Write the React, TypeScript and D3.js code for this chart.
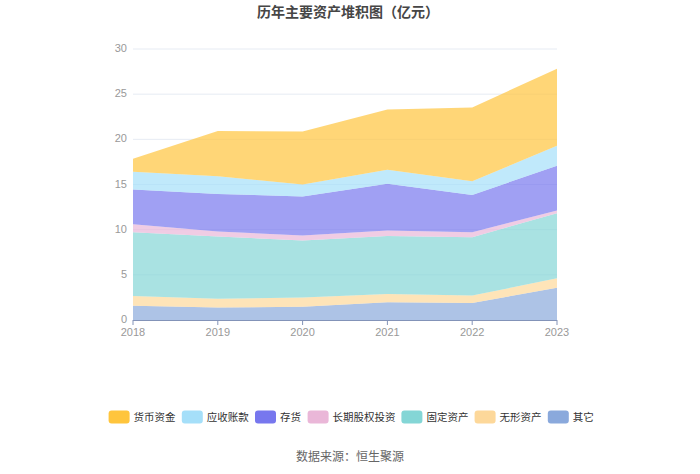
import React, { useEffect, useRef } from 'react';
import * as d3 from 'd3';

const years = ['2018', '2019', '2020', '2021', '2022', '2023'];

// values in 亿元
const cash = [1.44, 4.99, 5.87, 6.69, 8.16, 8.54];
const receivables = [1.96, 1.96, 1.33, 1.55, 1.52, 2.21];
const inventory = [3.84, 4.17, 4.32, 5.17, 4.13, 4.95];
const equityInvest = [0.88, 0.55, 0.56, 0.59, 0.56, 0.30];
const fixedAssets = [7.06, 6.88, 6.31, 6.43, 6.46, 7.20];
const intangibles = [1.07, 0.99, 1.00, 0.92, 0.82, 1.04];
const others = [1.59, 1.37, 1.48, 1.96, 1.88, 3.58];

const yTicks = [0, 5, 10, 15, 20, 25, 30];

// legend order (top of stack first)
const series = [
  { name: '货币资金', values: cash, color: '#ffc53d' },
  { name: '应收账款', values: receivables, color: '#a5dff9' },
  { name: '存货', values: inventory, color: '#7777ee' },
  { name: '长期股权投资', values: equityInvest, color: '#eab7d8' },
  { name: '固定资产', values: fixedAssets, color: '#84d6d6' },
  { name: '无形资产', values: intangibles, color: '#fdd89a' },
  { name: '其它', values: others, color: '#8aa9dc' },
];

const FONT = '"Noto Sans CJK SC", "Noto Sans", sans-serif';
const NUM_FONT = '"Liberation Sans", Arial, sans-serif';

const App: React.FC = () => {
  const svgRef = useRef<SVGSVGElement>(null);

  useEffect(() => {
    if (!svgRef.current) return;
    const svg = d3.select(svgRef.current);
    svg.selectAll('*').remove();

    const width = 700;
    const margin = { left: 133, right: 143, top: 49 };
    const plotBottom = 320;

    const x = d3.scalePoint<string>()
      .domain(years)
      .range([margin.left, width - margin.right]);

    const y = d3.scaleLinear()
      .domain([0, 30])
      .range([plotBottom, margin.top]);

    // title
    svg.append('text')
      .attr('x', 348)
      .attr('y', 17)
      .attr('text-anchor', 'middle')
      .attr('font-family', FONT)
      .attr('font-size', 14)
      .attr('font-weight', 'bold')
      .attr('fill', '#464646')
      .text('历年主要资产堆积图（亿元）');

    // grid
    svg.append('g')
      .selectAll('line')
      .data(yTicks.filter(t => t > 0))
      .join('line')
      .attr('x1', margin.left)
      .attr('x2', width - margin.right)
      .attr('y1', d => y(d))
      .attr('y2', d => y(d))
      .attr('stroke', '#e6ebf3')
      .attr('stroke-width', 1);

    // y labels
    svg.append('g')
      .selectAll('text')
      .data(yTicks)
      .join('text')
      .attr('x', margin.left - 6)
      .attr('y', d => y(d) + 3)
      .attr('text-anchor', 'end')
      .attr('font-family', NUM_FONT)
      .attr('font-size', 11)
      .attr('fill', '#999')
      .text(d => d);

    // stacked areas (bottom = 其它)
    const stackOrder = [...series].reverse();
    const rows = years.map((yr, i) => {
      const r: Record<string, number | string> = { year: yr };
      stackOrder.forEach(s => { r[s.name] = s.values[i]; });
      return r;
    });
    const stacked = d3.stack<Record<string, number | string>>()
      .keys(stackOrder.map(s => s.name))
      .value((d, k) => d[k] as number)(rows);

    const area = d3.area<d3.SeriesPoint<Record<string, number | string>>>()
      .x(d => x(d.data.year as string)!)
      .y0(d => y(d[0]))
      .y1(d => y(d[1]));

    const colorOf = new Map(series.map(s => [s.name, s.color]));

    svg.append('g')
      .selectAll('path')
      .data(stacked)
      .join('path')
      .attr('d', area)
      .attr('fill', d => colorOf.get(d.key)!)
      .attr('fill-opacity', 0.7);

    // x axis
    svg.append('line')
      .attr('x1', margin.left)
      .attr('x2', width - margin.right)
      .attr('y1', plotBottom + 0.5)
      .attr('y2', plotBottom + 0.5)
      .attr('stroke', '#8393b8')
      .attr('stroke-width', 1);

    svg.append('g')
      .selectAll('line')
      .data(years)
      .join('line')
      .attr('x1', d => x(d)!)
      .attr('x2', d => x(d)!)
      .attr('y1', plotBottom)
      .attr('y2', plotBottom + 5)
      .attr('stroke', '#8393b8');

    svg.append('g')
      .selectAll('text')
      .data(years)
      .join('text')
      .attr('x', d => x(d)!)
      .attr('y', plotBottom + 16)
      .attr('text-anchor', 'middle')
      .attr('font-family', NUM_FONT)
      .attr('font-size', 11)
      .attr('fill', '#999')
      .text(d => d);

    // legend
    const charW = 10.3, boxW = 21, boxH = 13, textGap = 4, itemGap = 7;
    const itemW = series.map(s => boxW + textGap + s.name.length * charW);
    const total = d3.sum(itemW) + itemGap * (series.length - 1);
    let lx = 351 - total / 2;
    const legend = svg.append('g');
    series.forEach((s, i) => {
      const g = legend.append('g').attr('transform', `translate(${lx},417)`);
      g.append('rect')
        .attr('x', 0)
        .attr('y', -boxH / 2)
        .attr('width', boxW)
        .attr('height', boxH)
        .attr('rx', 3)
        .attr('fill', s.color);
      g.append('text')
        .attr('x', boxW + textGap)
        .attr('dy', '0.35em')
        .attr('font-family', FONT)
        .attr('font-size', 10.5)
        .attr('fill', '#333')
        .text(s.name);
      lx += itemW[i] + itemGap;
    });

    // source
    svg.append('text')
      .attr('x', 350)
      .attr('y', 461)
      .attr('text-anchor', 'middle')
      .attr('font-family', FONT)
      .attr('font-size', 12)
      .attr('fill', '#666')
      .text('数据来源：恒生聚源');
  }, []);

  return (
    <svg
      ref={svgRef}
      width={700}
      height={474}
      style={{ position: 'absolute', left: 0, top: 0, background: '#fff' }}
    />
  );
};

export default App;
